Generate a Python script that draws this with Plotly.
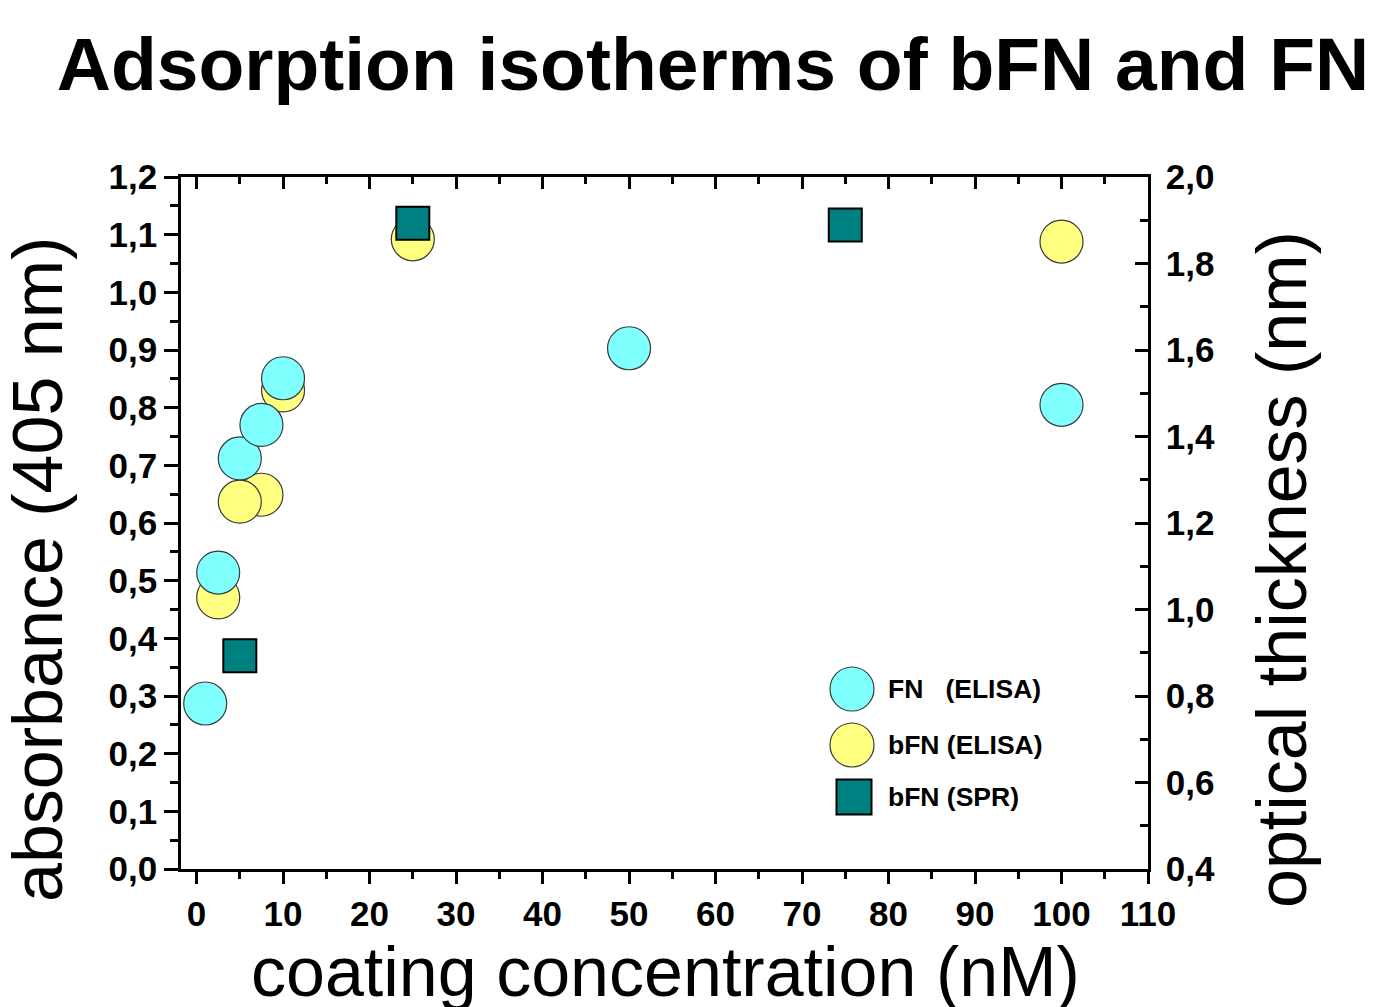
import plotly.graph_objects as go

# ---- data ----
fn_x = [1, 2.5, 5, 7.5, 10, 50, 100]
fn_y = [0.287, 0.514, 0.712, 0.770, 0.851, 0.903, 0.805]

bfn_x = [2.5, 7.5, 5, 10, 25, 100]
bfn_y = [0.471, 0.649, 0.637, 0.830, 1.092, 1.088]

spr_x = [5, 25, 75]
spr_y = [0.893, 1.893, 1.889]  # optical thickness (nm), right axis

series_names = ["FN\u00a0\u00a0\u00a0(ELISA)", "bFN (ELISA)", "bFN (SPR)"]

title_text = "Adsorption isotherms of bFN and FN"
x_title = "coating concentration (nM)"
y_title = "absorbance (405 nm)"
y2_title = "optical thickness (nm)"

# ---- layout geometry (page pixels; page body has an 8px margin) ----
OFF = 8
W, H = 1376 - OFF, 1007 - OFF
L, R, T, B = 181 - OFF, 1148 - OFF, 177 - OFF, 869 - OFF
FONT = "Liberation Sans, Arial, sans-serif"

CYAN = "#80FFFF"
YELLOW = "#FFFF80"
TEAL = "#008080"


def px_x(p):
    return (p - OFF - L) / (R - L)


def px_y(p):
    return (B - (p - OFF)) / (B - T)


fig = go.Figure()

fig.add_trace(go.Scatter(
    x=bfn_x, y=bfn_y, mode="markers", name=series_names[1],
    marker=dict(symbol="circle", size=43, color=YELLOW,
                line=dict(color="#3a3a3a", width=1.2)),
    showlegend=False, xaxis="x", yaxis="y"))

fig.add_trace(go.Scatter(
    x=fn_x, y=fn_y, mode="markers", name=series_names[0],
    marker=dict(symbol="circle", size=43, color=CYAN,
                line=dict(color="#3a3a3a", width=1.2)),
    showlegend=False, xaxis="x", yaxis="y"))

fig.add_trace(go.Scatter(
    x=spr_x, y=spr_y, mode="markers", name=series_names[2],
    marker=dict(symbol="square", size=33, color=TEAL,
                line=dict(color="#000000", width=2)),
    showlegend=False, xaxis="x", yaxis="y2"))

# empty trace to draw the top axis
fig.add_trace(go.Scatter(x=[None], y=[None], xaxis="x2", yaxis="y",
                         showlegend=False, hoverinfo="skip"))

tickfont = dict(family=FONT, size=35, color="black", weight="bold")

fig.update_layout(
    width=W, height=H,
    margin=dict(l=L, r=W - R, t=T, b=H - B),
    paper_bgcolor="white", plot_bgcolor="white",
    separators=",.",
    showlegend=False,
    title=dict(text=title_text, x=(713 - OFF) / W, xanchor="center",
               y=1 - (64 - OFF) / H, yanchor="middle",
               font=dict(family=FONT, size=75, color="black", weight="bold")),
    xaxis=dict(range=[-1.8, 110], tick0=0, dtick=10, ticks="outside",
               ticklen=12, tickwidth=2.5, tickcolor="black",
               minor=dict(dtick=5, ticklen=7, tickwidth=2.5, ticks="outside",
                          tickcolor="black"),
               showline=True, linewidth=2.5, linecolor="black",
               showgrid=False, zeroline=False, tickfont=tickfont),
    xaxis2=dict(range=[-1.8, 110], overlaying="x", side="top", tick0=0,
                dtick=10, ticks="inside", ticklen=12, tickwidth=2.5,
                tickcolor="black",
                minor=dict(dtick=5, ticklen=7, tickwidth=2.5, ticks="inside",
                           tickcolor="black"),
                showline=True, linewidth=2.5, linecolor="black",
                showgrid=False, zeroline=False, showticklabels=False),
    yaxis=dict(range=[0, 1.2], tick0=0, dtick=0.1, tickformat=".1f",
               ticks="outside", ticklen=14, tickwidth=2.5, tickcolor="black",
               minor=dict(dtick=0.05, ticklen=8, tickwidth=2.5,
                          ticks="outside", tickcolor="black"),
               showline=True, linewidth=2.5, linecolor="black",
               showgrid=False, zeroline=False, tickfont=tickfont),
    yaxis2=dict(range=[0.4, 2.0], overlaying="y", side="right", tick0=0.4,
                dtick=0.2, tickformat=".1f", ticks="inside", ticklen=13,
                tickwidth=2.5, tickcolor="black", ticklabelstandoff=8,
                minor=dict(dtick=0.1, ticklen=8, tickwidth=2.5,
                           ticks="inside", tickcolor="black"),
                showline=True, linewidth=2.5, linecolor="black",
                showgrid=False, zeroline=False, tickfont=tickfont),
)

# axis titles
big = dict(family=FONT, size=70, color="black")
fig.add_annotation(text=x_title, xref="paper", yref="paper",
                   x=px_x(665), y=px_y(972), xanchor="center",
                   yanchor="middle", showarrow=False, font=big)
fig.add_annotation(text=y_title, xref="paper", yref="paper",
                   x=px_x(38), y=px_y(570), xanchor="center",
                   yanchor="middle", textangle=-90, showarrow=False, font=big)
fig.add_annotation(text=y2_title, xref="paper", yref="paper",
                   x=px_x(1282), y=px_y(570), xanchor="center",
                   yanchor="middle", textangle=-90, showarrow=False, font=big)

# legend (drawn inside the plot)
leg_font = dict(family=FONT, size=26.5, color="black", weight="bold")
leg_items = [
    ("circle", CYAN, "#3a3a3a", 1.2, 852, 689, 44),
    ("circle", YELLOW, "#3a3a3a", 1.2, 852, 745, 44),
    ("square", TEAL, "#000000", 2.0, 854, 797, 35),
]
for (sym, col, lcol, lw, cx, cy, d), name in zip(leg_items, series_names):
    r = d / 2
    fig.add_shape(type="circle" if sym == "circle" else "rect",
                  xref="paper", yref="paper",
                  x0=px_x(cx - r), x1=px_x(cx + r),
                  y0=px_y(cy + r), y1=px_y(cy - r),
                  fillcolor=col, line=dict(color=lcol, width=lw))
    fig.add_annotation(text=name, xref="paper", yref="paper",
                       x=px_x(886), y=px_y(cy), xanchor="left",
                       yanchor="middle", showarrow=False, font=leg_font)

fig.write_html("out.html")
